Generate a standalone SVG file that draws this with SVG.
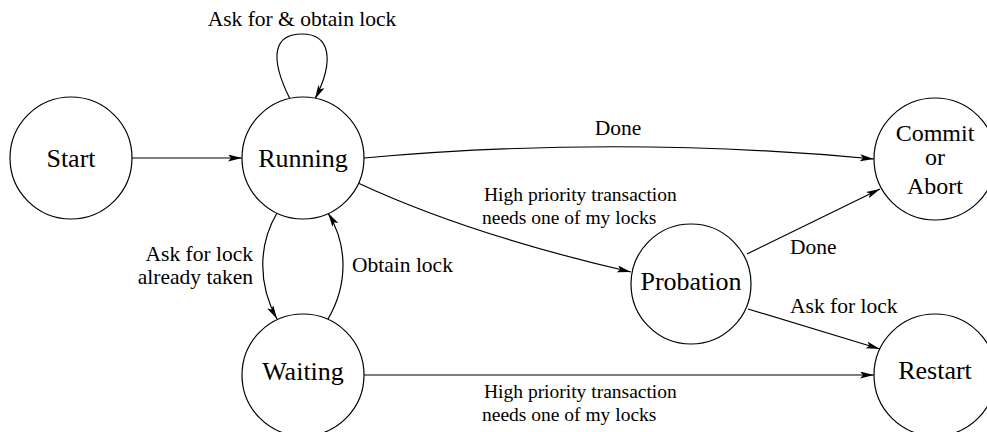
<svg xmlns="http://www.w3.org/2000/svg" width="987" height="432" viewBox="0 0 987 432">
<style>
.node{fill:#fff;stroke:#000;stroke-width:1.2}
.nl{font-family:"Liberation Serif","Times New Roman",serif;font-size:26px;text-anchor:middle;fill:#000}
.nl2{font-family:"Liberation Serif","Times New Roman",serif;font-size:24px;text-anchor:middle;fill:#000}
.el{font-family:"Liberation Serif","Times New Roman",serif;font-size:21.5px;fill:#000}
.es{font-family:"Liberation Serif","Times New Roman",serif;font-size:19.5px;fill:#000}
.edge{fill:none;stroke:#000;stroke-width:1.2;marker-end:url(#arr)}
</style>
<defs>
<marker id="arr" markerUnits="userSpaceOnUse" markerWidth="15" markerHeight="8" refX="14" refY="3.5" orient="auto" viewBox="0 0 15 8">
<path d="M0,0 L14,3.5 L0,7 L3,3.5 z" fill="#000"/>
</marker>
</defs>
<rect width="987" height="432" fill="#fff"/>
<g id="connectors">
<path class="edge" d="M290,99 C268,55 275,34 302,34 C330,34 335,60 315,99"/>
<path class="edge" d="M132,158 L242,158"/>
<path class="edge" d="M364,158 Q620,135 874,159"/>
<path class="edge" d="M358,183 Q470,235 631,272"/>
<path class="edge" d="M277,213 C258,245 258,285 277,319"/>
<path class="edge" d="M328,319 C348,285 348,245 328,213"/>
<path class="edge" d="M747,254 L880,189"/>
<path class="edge" d="M748,309 L880,349"/>
<path class="edge" d="M364,375 L874,375"/>
<text class="el" x="302" y="26" text-anchor="middle">Ask for &amp; obtain lock</text>
<text class="el" x="618" y="135" text-anchor="middle">Done</text>
<text class="es" x="484" y="201">High priority transaction</text>
<text class="es" x="482" y="224">needs one of my locks</text>
<text class="es" x="484" y="398">High priority transaction</text>
<text class="es" x="482" y="421">needs one of my locks</text>
<text class="el" x="790" y="254">Done</text>
<text class="el" x="790" y="313">Ask for lock</text>
<text class="el" x="253" y="261" text-anchor="end">Ask for lock</text>
<text class="el" x="253" y="284" text-anchor="end">already taken</text>
<text class="el" x="352" y="272">Obtain lock</text>
</g>
<g id="start"><circle class="node" cx="71" cy="158" r="61"/><text class="nl" x="71" y="167">Start</text></g>
<g id="running"><circle class="node" cx="303" cy="158" r="61"/><text class="nl" x="303" y="167">Running</text></g>
<g id="commit"><circle class="node" cx="935" cy="159" r="61"/><text class="nl2" x="935" y="141">Commit</text><text class="nl2" x="935" y="165">or</text><text class="nl2" x="935" y="194">Abort</text></g>
<g id="probation"><circle class="node" cx="691" cy="284" r="60"/><text class="nl" x="691" y="290">Probation</text></g>
<g id="waiting"><circle class="node" cx="303" cy="375" r="61"/><text class="nl" x="303" y="380">Waiting</text></g>
<g id="restart"><circle class="node" cx="935" cy="375" r="61"/><text class="nl" x="935" y="379">Restart</text></g>
</svg>
